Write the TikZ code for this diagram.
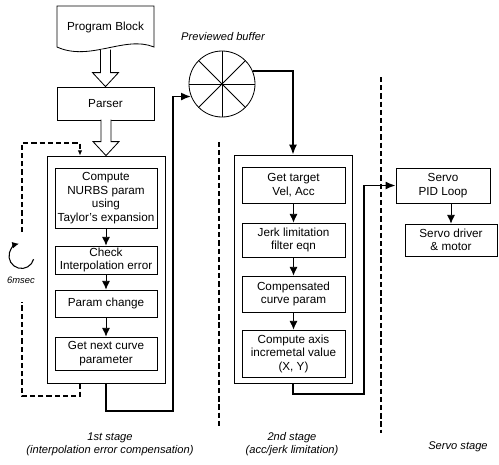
\documentclass[tikz,border=0pt]{standalone}
\usepackage{fontspec}
\setmainfont{Liberation Sans}
\usetikzlibrary{arrows.meta,calc}

\tikzset{
    stepbox/.style={draw, line width=0.7pt, fill=white, align=center, inner sep=1pt,
        font=\fontsize{10}{11.5}\selectfont},
    stagebox/.style={draw, line width=0.7pt, inner sep=0pt},
    hollow/.style={draw, line width=0.7pt, fill=white},
    flow/.style={line width=1.3pt, -{Latex[length=3mm,width=2.4mm]}},
    inflow/.style={line width=0.7pt, -{Latex[length=2.6mm,width=2.4mm]}},
    loopline/.style={line width=1.2pt, dash pattern=on 4.5pt off 2.5pt},
    divider/.style={line width=1.2pt, dash pattern=on 4.5pt off 2.5pt},
    caption/.style={font=\fontsize{9.5}{11}\selectfont\itshape, align=center}
}

\begin{document}
\begin{tikzpicture}[x=0.03cm, y=-0.03cm]
    \useasboundingbox (0,0) rectangle (499,464);

        %%stage frames
        \node[stagebox, minimum width=3.54cm, minimum height=6.81cm] (s1) at (106, 269.5){};
        \node[stagebox, minimum width=3.54cm, minimum height=6.84cm] (s2) at (293, 269){};

        %%program block
        \draw[line width=0.7pt, fill=white] (57, 6) -- (154, 6) -- (154, 47)
            .. controls (125, 35) and (90, 62) .. (57, 47) -- cycle;
            \node[font=\fontsize{10}{11.5}\selectfont] (pg) at (105.5, 27){Program Block};
        \node[stepbox, minimum width=2.91cm, minimum height=0.99cm] (parser) at (105.5, 103.5){Parser};

        %%hollow arrows
        \draw[hollow] ($(parser.north)+(-5,-37)$) -- ++(0,23) -- ++(-8,0) -- (parser.north)
            -- ++(13,-14) -- ++(-8,0) -- ++(0,-23);
        \draw[hollow] ($(s1.north)+(-5,-36)$) -- ++(0,22) -- ++(-8,0) -- (s1.north)
            -- ++(13,-14) -- ++(-8,0) -- ++(0,-22);

        %%1st stage
        \node[stepbox, minimum width=3.06cm, minimum height=1.8cm] (nurbs) at (106, 198)
            {Compute\\NURBS param\\using\\Taylor's expansion};
        \node[stepbox, minimum width=3.06cm, minimum height=0.84cm] (check) at (106, 260)
            {Check\\Interpolation error};
        \node[stepbox, minimum width=3.06cm, minimum height=0.81cm] (pchange) at (106, 303.5){Param change};
        \node[stepbox, minimum width=3.06cm, minimum height=0.99cm] (gnext) at (106, 353.5)
            {Get next curve\\parameter};
            \draw[inflow] (nurbs) -- (check);
            \draw[inflow] (check) -- (pchange);
            \draw[inflow] (pchange) -- (gnext);

        %%6msec loop
        \coordinate (lpx) at (80, 0);
        \coordinate (lpA) at (22, 396);
        \coordinate (lpB) at (22, 143);
        \draw[loopline] (s1.south -| lpx) |- (lpA) -- (22, 302);
        \draw[loopline, -{Latex[length=1.6mm,width=1.4mm]}] (22, 232) -- (lpB) -| (s1.north -| lpx);
        \draw[line width=0.9pt, -{Latex[length=2mm,width=2mm]}] (33.6, 259.2) arc (-15:-258:0.375cm);
            \node[caption, font=\fontsize{8}{9}\selectfont\itshape] (ms) at (21, 280){6msec};

        %%previewed buffer
        \node[circle, draw, line width=0.7pt, minimum size=1.98cm, inner sep=0pt] (buf) at (222, 84){};
            \foreach \a in {0,45,...,315}
                \draw[line width=0.7pt] (buf.center) -- (buf.\a);
            \node[caption] (buflabel) at (223, 37){Previewed buffer};
        \coordinate (c1) at (173, 411);
        \draw[flow] (s1.south) |- (c1) |- (buf.202);
        \draw[flow] (buf.23) -| (s2.north);

        %%2nd stage
        \node[stepbox, minimum width=3.09cm, minimum height=1.08cm] (target) at (293.5, 185)
            {Get target\\Vel, Acc};
        \node[stepbox, minimum width=3.09cm, minimum height=1.02cm] (jerk) at (293.5, 240)
            {Jerk limitation\\filter eqn};
        \node[stepbox, minimum width=3.09cm, minimum height=1.08cm] (comp) at (293.5, 294)
            {Compensated\\curve param};
        \node[stepbox, minimum width=3.09cm, minimum height=1.41cm] (axis) at (293.5, 353.5)
            {Compute axis\\incremetal value\\(X, Y)};
            \draw[inflow] (target) -- (jerk);
            \draw[inflow] (jerk) -- (comp);
            \draw[inflow] (comp) -- (axis);

        %%servo stage
        \node[stepbox, minimum width=2.82cm, minimum height=1.05cm] (pid) at (443, 185.5)
            {Servo\\PID Loop};
        \node[stepbox, minimum width=2.76cm, minimum height=0.96cm] (driver) at (451, 240)
            {Servo driver\\\& motor};
            \draw[inflow] (pid.south -| driver.north) -- (driver.north);
        \coordinate (c2) at (364, 394);
        \draw[flow] (s2.south) |- (c2) |- (pid.west);

        %%dividers
        \draw[divider] (219, 142) to (219, 428);
        \draw[divider] (381, 77) to (381, 433);

        %%captions
        \node[caption] (cap1) at (110, 444){1st stage\\(interpolation error compensation)};
        \node[caption] (cap2) at (292, 444){2nd stage\\(acc/jerk limitation)};
        \node[caption] (cap3) at (458, 447){Servo stage};
\end{tikzpicture}
\end{document}
